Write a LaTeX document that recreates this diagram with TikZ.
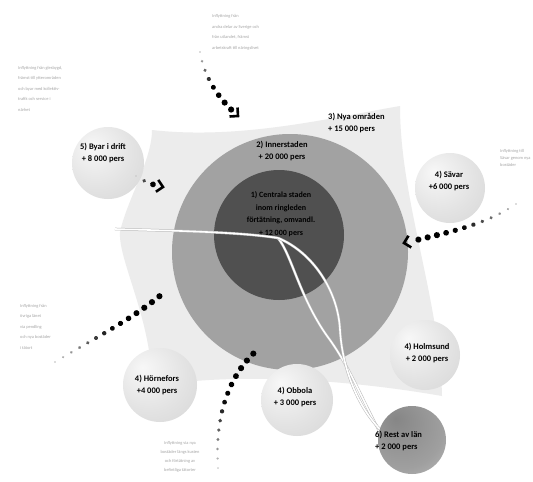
\documentclass[tikz,border=0pt]{standalone}
\usepackage{fontspec}
\setmainfont{Carlito}
\usetikzlibrary{decorations.markings}
\definecolor{lightc}{HTML}{ECECEC}
\definecolor{ringc}{HTML}{A2A2A2}
\definecolor{darkc}{HTML}{505050}
\pgfdeclareradialshading{softball}{\pgfpoint{-12bp}{12bp}}{color(0bp)=(gray!6); color(25bp)=(gray!22); color(50bp)=(gray!36); color(70bp)=(gray!45)}
\pgfdeclareradialshading{darkball}{\pgfpoint{-12bp}{16bp}}{color(0bp)=(gray!95); color(30bp)=(gray!75); color(55bp)=(gray!40); color(70bp)=(gray!30)}
\begin{document}
\begin{tikzpicture}[x=1pt,y=-1pt,
  ball/.style={circle, inner sep=0pt, minimum size=#1, shading=softball},
  lbl/.style={font=\bfseries\fontsize{8.5}{12}\selectfont, align=center, inner sep=0pt, text=black},
  note/.style={font=\fontsize{4.4}{#1}\selectfont, align=left, inner sep=0pt, text=gray!70, anchor=north west},
  dotarrow/.style={decoration={markings,
      mark=between positions 0 and -9pt step 9.5pt with {
        \pgfmathsetmacro\dfrac{\pgfkeysvalueof{/pgf/decoration/mark info/distance from start}/\pgfdecoratedpathlength}
        \pgfmathsetmacro\dcol{int(min(100,20+160*\dfrac))}
        \pgfmathsetmacro\drad{1.0+2.1*min(1,1.4*\dfrac)}
        \fill[black!\dcol] (0,0) circle[radius=\drad pt];},
      mark=at position 1 with {\draw[line width=2.6pt, black, line join=miter] (-6,-6) -- (0,0) -- (-6,6);}
    }, decorate},
  strand/.style={draw=gray!55, double=white, double distance=1.6pt, line width=0.5pt}
]
\useasboundingbox (0,0) rectangle (533,482);
\fill[white] (0,0) rectangle (533,482);

% light background shape
\fill[lightc] (152,130) .. controls (240,140) and (330,118) .. (400,106)
  .. controls (400,200) and (440,300) .. (442,396)
  .. controls (350,380) and (240,372) .. (152,386)
  .. controls (152,320) and (118,260) .. (120,232)
  .. controls (127,200) and (152,160) .. (152,130) -- cycle;

% rings
\node[circle, fill=ringc, inner sep=0pt, minimum size=236pt] (ring) at (290,252) {};
\node[circle, fill=darkc, inner sep=0pt, minimum size=130pt] (core) at (279,235) {};

% strands
\coordinate (s0) at (115,229);
\coordinate (s1) at (278,238);
\coordinate (s2) at (392,452);
\coordinate (s3) at (405,448);
\draw[strand] (s0) .. controls (180,231) and (240,232) .. (s1);
\draw[strand] (s1) .. controls (292,255) and (300,300) .. (330,340) .. controls (355,375) and (370,420) .. (s2);
\draw[strand] (s1) .. controls (312,252) and (338,290) .. (340,330) .. controls (343,380) and (368,430) .. (s3);

\node[font=\bfseries\fontsize{8}{12.5}\selectfont, text=black, align=center, inner sep=0pt] (t1) at (281,214)
  {1) Centrala staden\\inom ringleden\\förtätning, omvandl.\\+ 12 000 pers};

% outer balls
\node[ball=72pt] (b5) at (108,163) {};
\node[ball=70pt] (b4s) at (450,188) {};
\node[ball=70pt] (b4h) at (425,355) {};
\node[ball=68pt, shading=darkball] (b6) at (412,440) {};
\node[ball=72pt] (b4o) at (297,400) {};
\node[ball=74pt] (b4n) at (160,385) {};

% labels
\node[lbl] (l5) at (103,153) {5) Byar i drift\\+ 8 000 pers};
\node[lbl] (l2) at (282,151) {2) Innerstaden\\+ 20 000 pers};
\node[lbl, align=left, anchor=west] (l3) at (328,123) {3) Nya områden\\+ 15 000 pers};
\node[lbl] (l4s) at (449,181) {4) Sävar\\+6 000 pers};
\node[lbl] (l4h) at (427,353) {4) Holmsund\\+ 2 000 pers};
\node[lbl, align=left, anchor=west] (l6) at (375,441) {6) Rest av län\\+ 2 000 pers};
\node[lbl] (l4o) at (295,397) {4) Obbola\\+ 3 000 pers};
\node[lbl] (l4n) at (157,385) {4) Hörnefors\\+4 000 pers};

% notes
\node[note=10.8] (n1) at (212,14) {Inflyttning från\\andra delar av Sverige och\\från utlandet, främst\\arbetskraft till näringslivet};
\node[note=10.5] (n2) at (18,66) {Inflyttning från glesbygd,\\främst till ytterområden\\och byar med kollektiv-\\trafik och service i\\närhet};
\node[note=7] (n3) at (500,149) {Inflyttning till\\Sävar genom nya\\bostäder};
\node[note=10.5] (n4) at (20,304) {Inflyttning från\\övriga länet\\via pendling\\och nya bostäder\\i tätort};
\node[note=9, align=center, anchor=north] (n5) at (180,441) {Inflyttning via nya\\bostäder längs kusten\\och förtätning av\\befintliga tätorter};

% dotted arrows
\coordinate (a1s) at (200,52);  \coordinate (a1e) at (238,116);
\coordinate (a2s) at (136,176); \coordinate (a2e) at (163,187);
\coordinate (a3s) at (516,204); \coordinate (a3e) at (404,243);
\coordinate (a4s) at (55,362);  \coordinate (a4e) at (170,287);
\coordinate (a5s) at (218,468); \coordinate (a5e) at (267,342);
\path[dotarrow] (a1s) .. controls (205,80) and (220,100) .. (a1e);
\path[dotarrow] (a2s) .. controls (145,182) and (153,185) .. (a2e);
\path[dotarrow] (a3s) .. controls (485,225) and (450,232) .. (a3e);
\path[dotarrow] (a4s) .. controls (100,335) and (140,315) .. (a4e);
\path[dotarrow] (a5s) .. controls (214,405) and (235,365) .. (a5e);
\end{tikzpicture}
\end{document}
